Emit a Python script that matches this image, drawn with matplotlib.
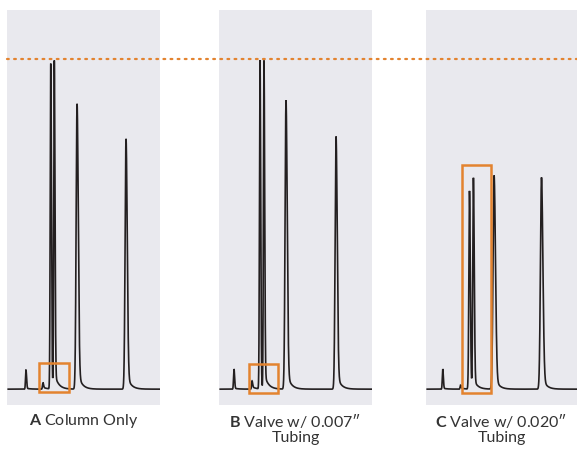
import numpy as np
import matplotlib
matplotlib.use("Agg")
import matplotlib.pyplot as plt
import matplotlib.patches as mpatches
from matplotlib.transforms import blended_transform_factory

plt.rcParams['font.family'] = ['Lato', 'DejaVu Sans']
plt.rcParams['mathtext.fontset'] = 'custom'
plt.rcParams['mathtext.rm'] = 'Lato'
plt.rcParams['mathtext.bf'] = 'Lato:bold'

# chromatogram peaks (retention time in min, height rel. to dotted line)
panels = ["A", "B", "C"]
captions = [r"$\mathbf{A}$ Column Only",
            "$\\mathbf{B}$ Valve w/ 0.007\u2033\nTubing",
            "$\\mathbf{C}$ Valve w/ 0.020\u2033\nTubing"]
rt_A = [1.24, 2.35, 2.86, 3.09, 4.58, 7.78]
rt_B = [0.98, 2.16, 2.68, 2.94, 4.38, 7.65]
rt_C = [1.11, 2.29, 2.88, 3.14, 4.51, 7.65]
height_A = [0.058, 0.02, 0.985, 0.995, 0.864, 0.758]
height_B = [0.061, 0.025, 0.995, 0.995, 0.875, 0.765]
height_C = [0.061, 0.012, 0.60, 0.64, 0.647, 0.641]
sigma_A = [0.03, 0.03, 0.035, 0.035, 0.06, 0.06]
sigma_B = [0.03, 0.03, 0.035, 0.035, 0.06, 0.06]
sigma_C = [0.03, 0.03, 0.042, 0.042, 0.07, 0.07]
tail_frac = [0.05, 0.3, 0.0, 0.05, 0.07, 0.07]
# highlight boxes (t0, t1, y0, y1)
box_A = (2.09, 4.05, -0.008, 0.08)
box_B = (1.96, 3.86, -0.012, 0.076)
box_C = (2.38, 4.30, -0.012, 0.68)

rts = [rt_A, rt_B, rt_C]
heights = [height_A, height_B, height_C]
sigmas = [sigma_A, sigma_B, sigma_C]
boxes = [box_A, box_B, box_C]

ink = "#231f20"
orange = "#e3832f"
bg = "#e9e9ee"


def peak(t, t0, h, s, frac=0.07, tau=0.25):
    left = np.exp(-0.5 * ((t - t0) / s) ** 2)
    right = (1 - frac) * np.exp(-0.5 * ((t - t0) / (s * 1.3)) ** 2) + frac * np.exp(-np.clip(t - t0, 0, None) / tau)
    return h * np.where(t < t0, left, right)


fig = plt.figure(figsize=(5.77, 4.5), dpi=100)
W, H = 577, 450
lefts = [7, 219, 426]
widths = [153, 153, 151]
axes = []
t = np.linspace(0.0, 10.0, 6000)
for i in range(3):
    ax = fig.add_axes([lefts[i] / W, (H - 405) / H, widths[i] / W, 395 / H])
    ax.set_facecolor(bg)
    for sp in ax.spines.values():
        sp.set_visible(False)
    ax.set_xticks([])
    ax.set_yticks([])
    ax.set_xlim(0, 10)
    ax.set_ylim(-0.048, 1.148)
    y = np.zeros_like(t)
    for t0, h, s, f in zip(rts[i], heights[i], sigmas[i], tail_frac):
        y += peak(t, t0, h, s, f)
    ax.plot(t[t > 0.08], y[t > 0.08], color=ink, lw=1.2, solid_joinstyle="miter")
    b = boxes[i]
    ax.add_patch(mpatches.Rectangle((b[0], b[2]), b[1] - b[0], b[3] - b[2], fill=False,
                                    edgecolor=orange, lw=1.8, zorder=5, clip_on=False))
    ax.text(0.5, -0.018, captions[i], transform=ax.transAxes, ha="center", va="top",
            fontsize=11.5, color="#333333", linespacing=1.12)
    axes.append(ax)

# dotted reference line at the top of the tallest peak
tr = blended_transform_factory(fig.transFigure, axes[0].transData)
fig.add_artist(plt.Line2D([7 / W, 1.0], [1.0, 1.0], transform=tr, color=orange, lw=1.6,
                          linestyle=(0, (0.8, 2.4)), dash_capstyle="round"))

fig.savefig("out.png", dpi=100)
